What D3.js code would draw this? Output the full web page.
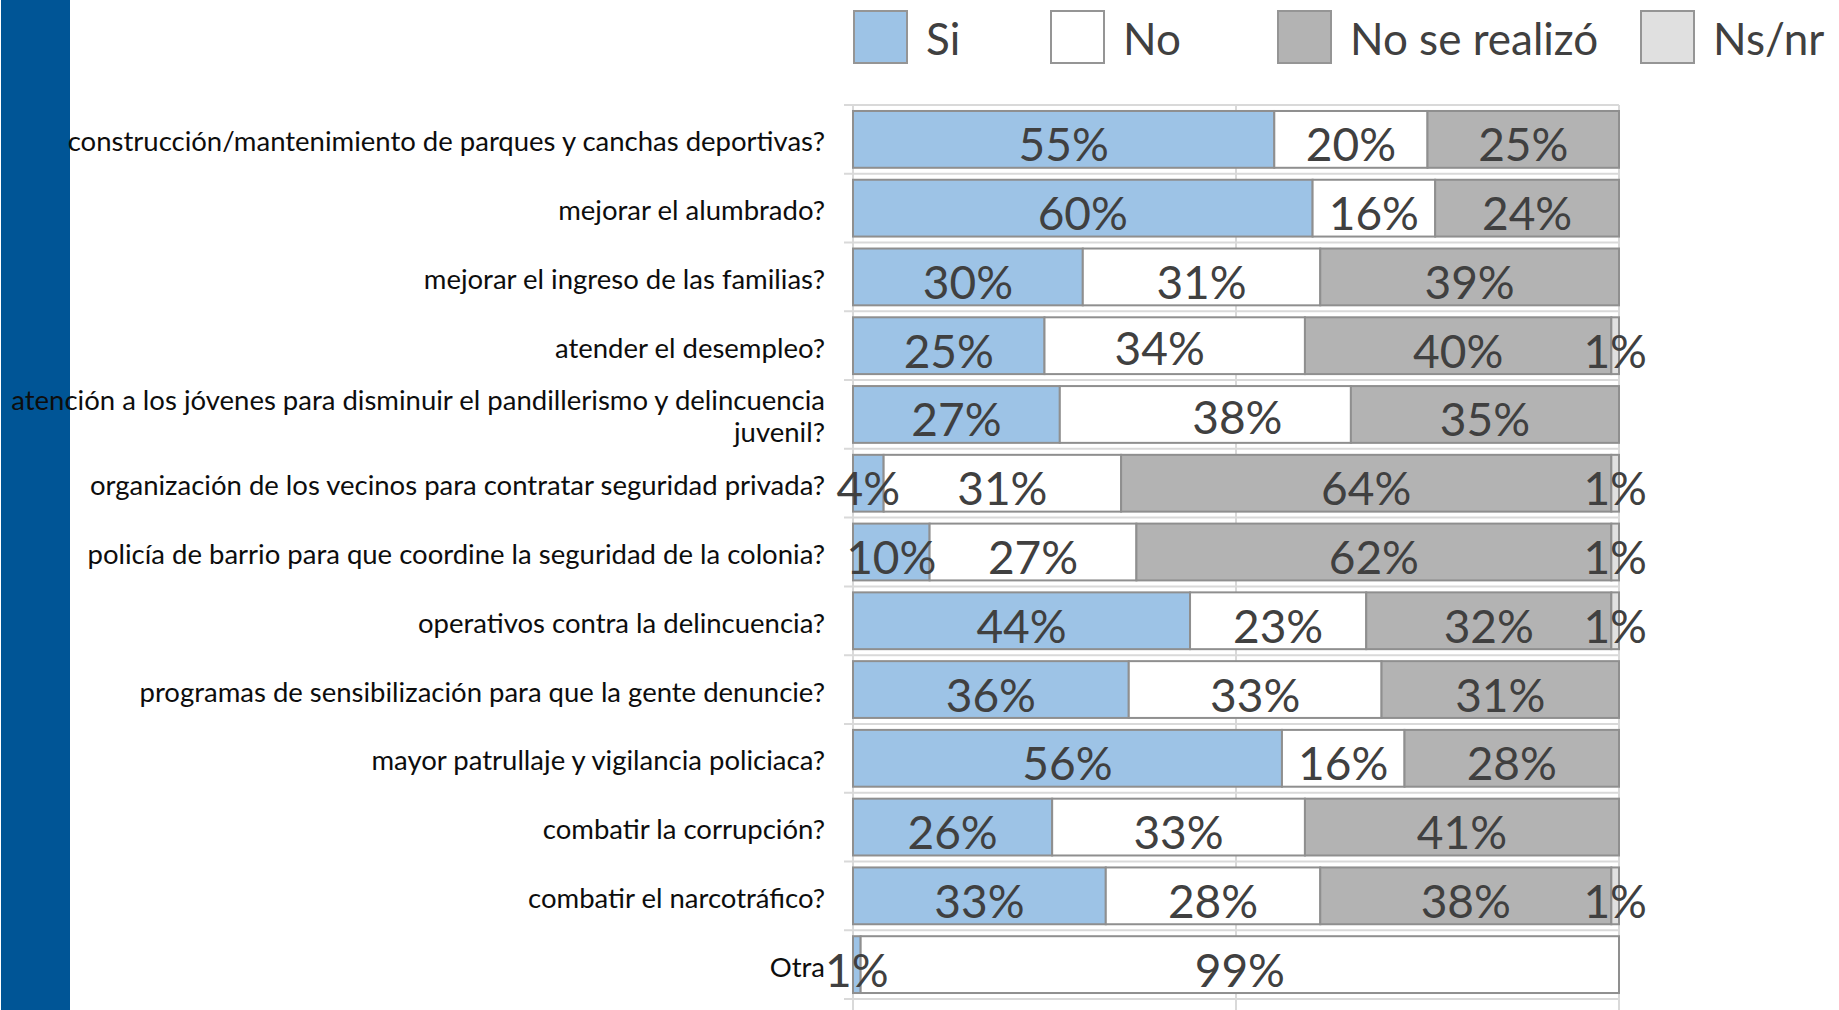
<!DOCTYPE html>
<html>
<head>
<meta charset="utf-8">
<script src="https://cdn.jsdelivr.net/npm/d3@7"></script>
<style>
  body { margin: 0; background: #ffffff; }
  svg { display: block; }
</style>
</head>
<body>
<svg id="chart" width="1839" height="1010"></svg>
<script>
// ---------- DATA ----------
const categories = [
  "construcción/mantenimiento de parques y canchas deportivas?",
  "mejorar el alumbrado?",
  "mejorar el ingreso de las familias?",
  "atender el desempleo?",
  "atención a los jóvenes para disminuir el pandillerismo y delincuencia juvenil?",
  "organización de los vecinos para contratar seguridad privada?",
  "policía de barrio para que coordine la seguridad de la colonia?",
  "operativos contra la delincuencia?",
  "programas de sensibilización para que la gente denuncie?",
  "mayor patrullaje y vigilancia policiaca?",
  "combatir la corrupción?",
  "combatir el narcotráfico?",
  "Otra"
];
const seriesNames = ["Si", "No", "No se realizó", "Ns/nr"];
const si         = [55, 60, 30, 25, 27,  4, 10, 44, 36, 56, 26, 33,  1];
const no         = [20, 16, 31, 34, 38, 31, 27, 23, 33, 16, 33, 28, 99];
const noRealizo  = [25, 24, 39, 40, 35, 64, 62, 32, 31, 28, 41, 38,  0];
const nsnr       = [ 0,  0,  0,  1,  0,  1,  1,  1,  0,  0,  0,  1,  0];
const xTicks     = [0, 50, 100];

// ---------- STYLE / LAYOUT ----------
const colors = ["#9dc3e6", "#ffffff", "#b3b3b3", "#e0e0e0"];
const W = 1839, H = 1010;
const plot = { left: 853, right: 1619, top: 105, bottom: 999 };
const FONT = "Lato, 'Open Sans', sans-serif";
// a few data labels were nudged by hand in the original (row index + series key -> [dx, dy])
const labelNudge = { "3-no": [-15, -3], "4-no": [32, -2] };

const svg = d3.select("#chart");

// table for the stack
const keys = ["si", "no", "nr", "ns"];
const seriesArrays = [si, no, noRealizo, nsnr];
const table = categories.map((c, i) => {
  const row = { cat: c, idx: i };
  keys.forEach((k, j) => row[k] = seriesArrays[j][i]);
  return row;
});
const stacked = d3.stack().keys(keys)(table);

const x = d3.scaleLinear().domain([0, 100]).range([plot.left, plot.right]);
const y = d3.scaleBand().domain(categories).range([plot.top, plot.bottom]).paddingInner(0.174).paddingOuter(0.087);
const band = y.step();

// sidebar
svg.append("rect").attr("x", 1).attr("y", 0).attr("width", 69).attr("height", H).attr("fill", "#005596");

// horizontal gridlines at band boundaries (category axis ticks)
const gridColor = "#d9d9d9";
const boundaries = d3.range(categories.length + 1).map(i => plot.top + i * band);
svg.append("g").selectAll("line").data(boundaries).join("line")
  .attr("x1", plot.left - 9).attr("x2", plot.right)
  .attr("y1", d => d).attr("y2", d => d)
  .attr("stroke", gridColor).attr("stroke-width", 2);

// vertical gridlines
svg.append("g").selectAll("line").data(xTicks).join("line")
  .attr("x1", d => x(d)).attr("x2", d => x(d))
  .attr("y1", plot.top).attr("y2", H + 2)
  .attr("stroke", gridColor).attr("stroke-width", 2);

// bars
const gBars = svg.append("g");
stacked.forEach((s, j) => {
  gBars.append("g").selectAll("rect").data(s.filter(d => d[1] - d[0] > 0)).join("rect")
    .attr("x", d => x(d[0]))
    .attr("y", d => y(d.data.cat))
    .attr("width", d => x(d[1]) - x(d[0]))
    .attr("height", y.bandwidth())
    .attr("fill", colors[j])
    .attr("stroke", "#8f8f8f")
    .attr("stroke-width", 2);
});

// category labels (wrapped)
const labelRight = plot.left - 28;
const maxLabelW = 830;
const gCat = svg.append("g")
  .attr("font-family", FONT).attr("font-size", 27.5).attr("fill", "#0d0d0d")
  .attr("text-anchor", "end");
categories.forEach(c => {
  const t = gCat.append("text").attr("x", labelRight);
  const words = c.split(" ");
  const lines = [];
  let cur = [];
  const probe = t.append("tspan");
  words.forEach(w => {
    const test = cur.concat([w]).join(" ");
    probe.text(test);
    if (probe.node().getComputedTextLength() > maxLabelW && cur.length) {
      lines.push(cur.join(" "));
      cur = [w];
    } else {
      cur.push(w);
    }
  });
  lines.push(cur.join(" "));
  probe.remove();
  const cy = y(c) + y.bandwidth() / 2;
  const lh = 32;
  const y0 = cy + 12 - (lines.length - 1) * lh / 2;
  lines.forEach((ln, k) => {
    t.append("tspan").attr("x", labelRight).attr("y", y0 + k * lh).text(ln);
  });
});

// data labels
const gLab = svg.append("g")
  .attr("font-family", FONT).attr("font-size", 46).attr("fill", "#404040")
  .attr("text-anchor", "middle");
stacked.forEach((s, j) => {
  const key = s.key;
  gLab.append("g").selectAll("text").data(s.filter(d => d[1] - d[0] > 0)).join("text")
    .attr("x", d => x((d[0] + d[1]) / 2) + ((labelNudge[d.data.idx + "-" + key] || [0, 0])[0]))
    .attr("y", d => y(d.data.cat) + y.bandwidth() / 2 + 22 + ((labelNudge[d.data.idx + "-" + key] || [0, 0])[1]))
    .text(d => (d[1] - d[0]) + "%");
});

// legend
const legendX = [854, 1051, 1278, 1641];
const gLeg = svg.append("g").attr("font-family", FONT).attr("font-size", 44).attr("fill", "#404040");
seriesNames.forEach((n, j) => {
  gLeg.append("rect").attr("x", legendX[j]).attr("y", 11).attr("width", 53).attr("height", 52)
    .attr("fill", colors[j]).attr("stroke", "#959595").attr("stroke-width", 2);
  gLeg.append("text").attr("x", legendX[j] + 72).attr("y", 55).text(n);
});
</script>
</body>
</html>
